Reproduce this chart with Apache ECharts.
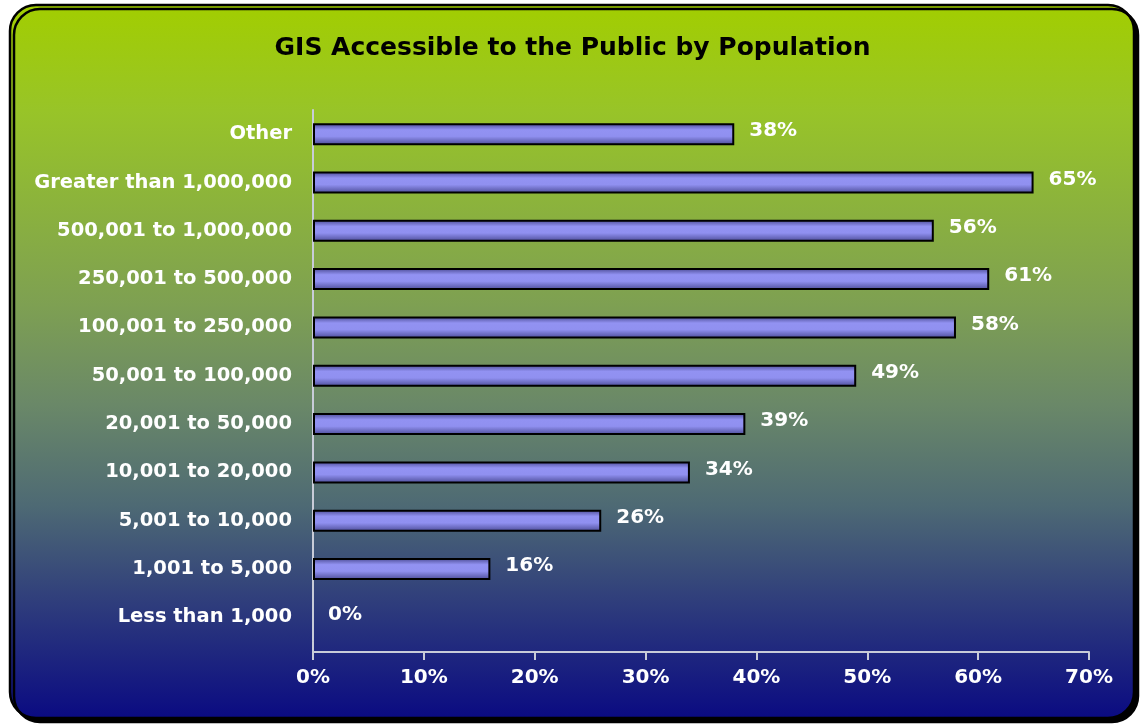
<!DOCTYPE html>
<html>
<head>
<meta charset="utf-8">
<title>GIS Accessible to the Public by Population</title>
<script src="https://cdn.jsdelivr.net/npm/echarts@6/dist/echarts.min.js"></script>
<style>
  html, body { margin: 0; padding: 0; background: #ffffff; }
  #chart { width: 1145px; height: 726px; }
</style>
</head>
<body>
<div id="chart"></div>
<script>
// Population groups, listed top to bottom
const categories = [
  'Other',
  'Greater than 1,000,000',
  '500,001 to 1,000,000',
  '250,001 to 500,000',
  '100,001 to 250,000',
  '50,001 to 100,000',
  '20,001 to 50,000',
  '10,001 to 20,000',
  '5,001 to 10,000',
  '1,001 to 5,000',
  'Less than 1,000'
];
// Share of jurisdictions with public GIS access (%)
const shares = [38, 65, 56, 61, 58, 49, 39, 34, 26, 16, 0];
// Value axis range and step (%)
const axisMin = 0;
const axisMax = 70;
const axisStep = 10;

const FONT = '"DejaVu Sans", Verdana, sans-serif';
const AXIS_COLOR = '#c8ccd8';
const chart = echarts.init(document.getElementById('chart'), null, { renderer: 'canvas' });

// plot area: categories occupy the band above the value axis, which sits a little lower
const gridLeft = 313, gridTop = 110, gridBottomY = 641.5, axisY = 652;

// zero-length bars get no outline so only the label remains
const barData = shares.map(v => (v === 0 ? { value: v, itemStyle: { borderWidth: 0 } } : v));

const option = {
  animation: false,
  backgroundColor: '#ffffff',
  graphic: [{
    type: 'rect',
    z: -10,
    shape: { x: 10, y: 5, width: 1124, height: 713, r: 26 },
    style: {
      fill: new echarts.graphic.LinearGradient(0, 0, 0, 1, [
        { offset: 0, color: '#a2ce00' },
        { offset: 0.15, color: '#98c428' },
        { offset: 0.42, color: '#7ea052' },
        { offset: 0.56, color: '#6a8868' },
        { offset: 0.70, color: '#4e6a74' },
        { offset: 0.84, color: '#2e3c7c' },
        { offset: 1, color: '#0a0a82' }
      ]),
      stroke: '#000000',
      lineWidth: 2.5,
      shadowColor: '#000000',
      shadowOffsetX: 4,
      shadowOffsetY: 4,
      shadowBlur: 0
    }
  }, {
    // short continuation of the category axis line down to the value axis
    type: 'line',
    z: 5,
    shape: { x1: gridLeft, y1: gridBottomY, x2: gridLeft, y2: axisY },
    style: { stroke: AXIS_COLOR, lineWidth: 2 }
  }],
  title: {
    text: 'GIS Accessible to the Public by Population',
    left: 'center',
    top: 31,
    textStyle: { fontFamily: FONT, fontSize: 25, fontWeight: 'bold', color: '#000000' }
  },
  grid: { left: gridLeft, right: 56, top: gridTop, bottom: 726 - gridBottomY, containLabel: false },
  xAxis: {
    type: 'value',
    min: axisMin,
    max: axisMax,
    interval: axisStep,
    offset: axisY - gridBottomY,
    axisLine: { show: true, lineStyle: { color: AXIS_COLOR, width: 2 } },
    axisTick: { show: true, length: 8, lineStyle: { color: AXIS_COLOR, width: 2 } },
    splitLine: { show: false },
    axisLabel: {
      formatter: '{value}%',
      margin: 16,
      color: '#ffffff',
      fontFamily: FONT,
      fontSize: 20,
      fontWeight: 'bold'
    }
  },
  yAxis: {
    type: 'category',
    data: categories,
    inverse: true,
    axisLine: { show: true, lineStyle: { color: AXIS_COLOR, width: 2 } },
    axisTick: { show: false },
    axisLabel: {
      margin: 21,
      color: '#ffffff',
      fontFamily: FONT,
      fontSize: 19.5,
      fontWeight: 'bold'
    }
  },
  series: [{
    type: 'bar',
    data: barData,
    barWidth: 22,
    itemStyle: {
      color: new echarts.graphic.LinearGradient(0, 0, 0, 1, [
        { offset: 0, color: '#484890' },
        { offset: 0.3, color: '#9292f2' },
        { offset: 0.6, color: '#9090f0' },
        { offset: 1, color: '#4a4a94' }
      ]),
      borderColor: '#000000',
      borderWidth: 2
    },
    label: {
      show: true,
      position: 'right',
      distance: 15,
      offset: [0, -3],
      formatter: '{c}%',
      color: '#ffffff',
      fontFamily: FONT,
      fontSize: 20,
      fontWeight: 'bold'
    }
  }]
};

chart.setOption(option);
</script>
</body>
</html>
